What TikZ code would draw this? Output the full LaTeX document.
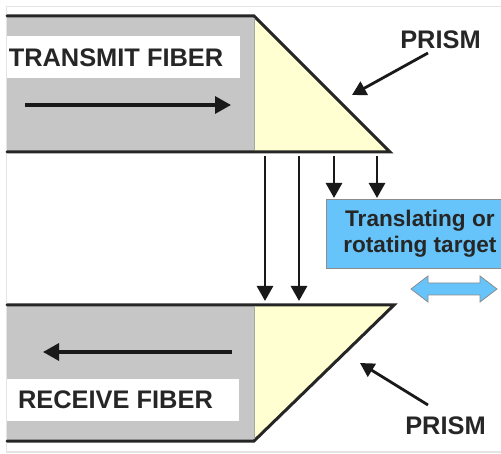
\documentclass[tikz,border=0pt]{standalone}
\usepackage{fontspec}
\setmainfont{Liberation Sans}
\usetikzlibrary{arrows.meta}
\definecolor{fibergray}{HTML}{C6C6C6}
\definecolor{prismyellow}{HTML}{FFFFD2}
\definecolor{targetblue}{HTML}{66C4FA}
\definecolor{framegray}{HTML}{E4E4E4}
\tikzset{
  x=1pt,y=-1pt,
  edge/.style={draw=black!85,line width=3pt,line cap=round},
  flow/.style={draw=black!90,line width=3.2pt,-{Triangle[length=16pt,width=17pt]}},
  beam/.style={draw=black!90,line width=2.8pt,-{Triangle[length=15pt,width=16pt]}},
  lbl/.style={font=\fontsize{25.4}{30}\selectfont\bfseries,text=black!85,inner sep=0pt,anchor=center},
  callout/.style={draw=black!90,line width=2.8pt,-{Triangle[length=14pt,width=15pt]}}
}
\begin{document}
\begin{tikzpicture}
\useasboundingbox (0,0) rectangle (501,454);
\fill[white] (0,0) rectangle (501,454);
\draw[framegray,line width=1.2pt] (501,6.5) -- (6.5,6.5) -- (6.5,452) -- (501,452);
% fibers
\fill[fibergray] (7,16) rectangle (254,152);
\fill[fibergray] (7,305) rectangle (254,441);
\fill[white] (7,36) rectangle (240,78);
\fill[white] (7,379) rectangle (239,421);
% prisms
\filldraw[fill=prismyellow,draw=none] (254,16) -- (390,152) -- (254,152) -- cycle;
\filldraw[fill=prismyellow,draw=none] (254,305) -- (394,305) -- (254,441) -- cycle;
\draw[edge] (7,16) -- (254,16) -- (390,152) -- (7,152);
\draw[edge] (7,305) -- (394,305) -- (254,441) -- (7,441);
\draw[black!35,line width=0.8pt] (254,18) -- (254,150) (254,307) -- (254,439);
% labels
\node[lbl] (tx) at (116,58) {TRANSMIT FIBER};
\node[lbl] (rx) at (115.5,400) {RECEIVE FIBER};
\node[lbl] (p1) at (440.5,40) {PRISM};
\node[lbl] (p2) at (445.5,425.5) {PRISM};
% target
\node[draw=black!45,line width=0.8pt,fill=targetblue,minimum width=180pt,minimum height=69pt,inner sep=0pt,anchor=north west,
      align=center,font=\fontsize{22.6}{26}\selectfont\bfseries,text=black!85] (target) at (325.5,199) {\kern8pt Translating or\\\kern8pt rotating target};
% internal flow arrows
\coordinate (txa) at (25,105); \coordinate (txb) at (231,105);
\coordinate (rxa) at (232,352); \coordinate (rxb) at (43,352);
\draw[flow] (txa) -- (txb);
\draw[flow] (rxa) -- (rxb);
% beams
\coordinate (b1a) at (265,156); \coordinate (b1b) at (265,301);
\coordinate (b2a) at (299,156); \coordinate (b2b) at (299,301);
\coordinate (b3a) at (334,156); \coordinate (b3b) at (334,198);
\coordinate (b4a) at (377,156); \coordinate (b4b) at (377,198);
\draw[beam] (b1a) -- (b1b);
\draw[beam] (b2a) -- (b2b);
\draw[beam] (b3a) -- (b3b);
\draw[beam] (b4a) -- (b4b);
% callouts
\coordinate (c1s) at (428,53); \coordinate (c1t) at (352,95);
\coordinate (c2s) at (428,405); \coordinate (c2t) at (360,363);
\draw[callout] (c1s) -- (c1t);
\draw[callout] (c2s) -- (c2t);
% double arrow
\draw[draw=black!45,line width=0.8pt,fill=targetblue] (411,289) -- (428,276) -- (428,283) -- (480,283) -- (480,276) -- (497,289) -- (480,302) -- (480,295) -- (428,295) -- (428,302) -- cycle;
\end{tikzpicture}
\end{document}
